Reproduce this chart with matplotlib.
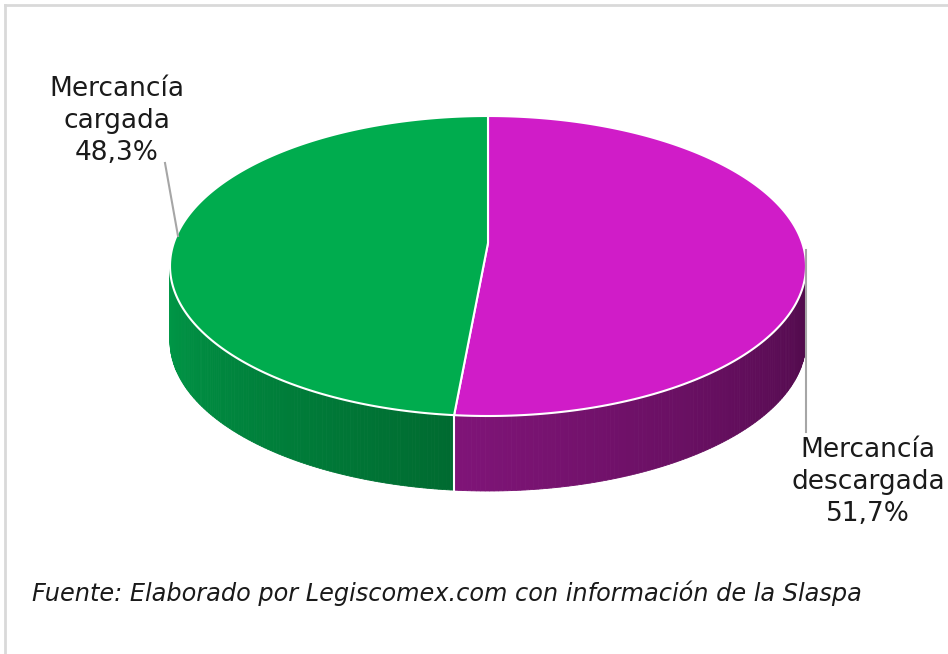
import matplotlib.pyplot as plt
import numpy as np
from matplotlib.patches import Polygon

labels = ["Mercancía\ndescargada", "Mercancía\ncargada"]
shares = [51.7, 48.3]
top_colors = ["#D01CC8", "#00AC4E"]
side_dark = [(0.31, 0.04, 0.29), (0.00, 0.42, 0.19)]
side_light = [(0.50, 0.08, 0.47), (0.00, 0.60, 0.28)]
source_note = "Fuente: Elaborado por Legiscomex.com con información de la Slaspa"


def rim(t_deg, cx, cy, rx, ry):
    t = np.radians(t_deg)
    return cx + rx * np.cos(t), cy - ry * np.sin(t)


def main() -> None:
    width_px, height_px = 948, 654
    fig = plt.figure(figsize=(width_px / 100, height_px / 100), dpi=100)
    ax = fig.add_axes([0, 0, 1, 1])
    ax.set_xlim(0, width_px)
    ax.set_ylim(height_px, 0)
    ax.axis("off")

    # frame (only top and left edges are inside the picture)
    ax.plot([5, width_px], [5, 5], color="#D9D9D9", linewidth=2)
    ax.plot([5, 5], [5, height_px], color="#D9D9D9", linewidth=2)

    cx, cy, rx, ry, depth = 488, 266, 318, 150, 75
    apex = (488, 243)

    # slice boundaries, clockwise from 12 o'clock
    fractions = np.array(shares) / sum(shares)
    bounds = [90.0]
    for f in fractions:
        bounds.append(bounds[-1] - f * 360.0)
    split = bounds[1] + 360.0  # boundary on the front wall

    # side wall (front half), shaded across
    n = 120
    side_ranges = [(split, 360.0, 0), (180.0, split, 1)]
    for t0, t1, idx in side_ranges:
        ts = np.linspace(t0, t1, n + 1)
        light = np.array(side_light[idx])
        dark = np.array(side_dark[idx])
        for k in range(n):
            frac = k / (n - 1)
            c = light * (1 - frac) + dark * frac
            xa, ya = rim(ts[k], cx, cy, rx, ry)
            xb, yb = rim(ts[k + 1], cx, cy, rx, ry)
            quad = [(xa, ya), (xb, yb), (xb, yb + depth), (xa, ya + depth)]
            ax.add_patch(Polygon(quad, closed=True, facecolor=c,
                                 edgecolor=c, linewidth=0.6))
    xs, ys = rim(split, cx, cy, rx, ry)
    ax.plot([xs, xs], [ys, ys + depth], color="white", linewidth=1.5)

    # top face
    for i in range(len(shares)):
        ts = np.linspace(bounds[i], bounds[i + 1], 200)
        px, py = rim(ts, cx, cy, rx, ry)
        pts = [apex] + list(zip(px, py))
        ax.add_patch(Polygon(pts, closed=True, facecolor=top_colors[i],
                             edgecolor="white", linewidth=1.5))

    # leader lines
    ax.plot([165, 178], [163, 236], color="#A6A6A6", linewidth=1.5)
    ax.plot([806, 806], [250, 432], color="#A6A6A6", linewidth=1.5)

    label_font = dict(fontsize=19, color="#1A1A1A", ha="center", va="center",
                      linespacing=1.32)
    ax.text(117, 121, f"{labels[1]}\n{shares[1]:.1f}%".replace(".", ","),
            **label_font)
    ax.text(868, 482, f"{labels[0]}\n{shares[0]:.1f}%".replace(".", ","),
            **label_font)

    ax.text(32, 593, source_note, fontsize=17.3, style="italic",
            color="#1A1A1A", ha="left", va="center")

    fig.savefig("out.png", dpi=100)
    plt.close(fig)


if __name__ == "__main__":
    main()
